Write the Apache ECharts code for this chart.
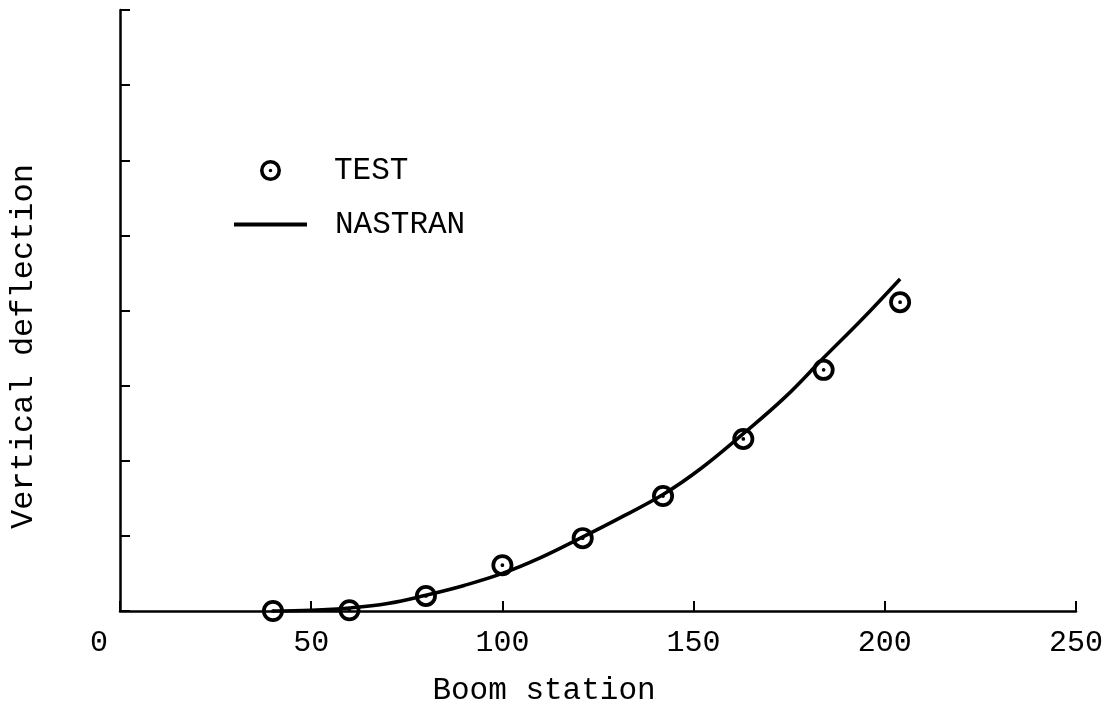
<!DOCTYPE html>
<html>
<head>
<meta charset="utf-8">
<script src="https://cdn.jsdelivr.net/npm/echarts@6/dist/echarts.min.js"></script>
<style>html,body{margin:0;padding:0;background:#fff;}#c{width:1109px;height:711px;}</style>
</head>
<body>
<div id="c"></div>
<script>
// Data
const testStations = [40, 60, 80, 100, 121, 142, 163, 184, 204];
const testDeflection = [0.0, 0.01, 0.2, 0.61, 0.97, 1.53, 2.29, 3.21, 4.11];
const nastranStations = [40, 50, 60, 70, 80, 90, 100, 110, 120, 130, 142, 152, 163, 174, 184, 194, 204];
const nastranDeflection = [0, 0.01, 0.04, 0.1, 0.21, 0.34, 0.5, 0.71, 0.96, 1.22, 1.55, 1.9, 2.36, 2.85, 3.37, 3.88, 4.42];
const xTicks = [0, 50, 100, 150, 200, 250];
const seriesNames = ['TEST', 'NASTRAN'];
const xTitle = 'Boom station';
const yTitle = 'Vertical deflection';

const FONT = '"Liberation Mono", "DejaVu Sans Mono", monospace';
const ringDot = 'path://M10,0 A10,10 0 1,1 10,20 A10,10 0 1,1 10,0 Z M10,3.4 A6.6,6.6 0 1,0 10,16.6 A6.6,6.6 0 1,0 10,3.4 Z M10,8.3 A1.7,1.7 0 1,1 10,11.7 A1.7,1.7 0 1,1 10,8.3 Z';

const chart = echarts.init(document.getElementById('c'), null, {renderer: 'canvas'});
chart.setOption({
  backgroundColor: '#fff',
  animation: false,
  grid: {left: 116, right: 33, top: 10, bottom: 98, containLabel: false},
  legend: [
    {
      data: [{name: seriesNames[0], icon: ringDot}],
      left: 255, top: 150, itemWidth: 21, itemHeight: 21,
      textStyle: {fontFamily: FONT, fontSize: 31, color: '#000', padding: [0, 0, 0, 48]},
      selectedMode: false
    },
    {
      data: [{name: seriesNames[1], icon: 'rect'}],
      left: 229, top: 204, itemWidth: 73, itemHeight: 4,
      textStyle: {fontFamily: FONT, fontSize: 31, color: '#000', padding: [0, 0, 0, 23]},
      selectedMode: false
    }
  ],
  xAxis: {
    type: 'value', min: xTicks[0], max: xTicks[xTicks.length - 1], interval: 50,
    name: xTitle, nameLocation: 'middle', nameGap: 64,
    nameTextStyle: {fontFamily: FONT, fontSize: 31, color: '#000', padding: [0, 108, 0, 0]},
    axisLine: {show: true, lineStyle: {color: '#000', width: 2.5}},
    axisTick: {show: true, inside: true, length: 10, lineStyle: {color: '#000', width: 2}},
    splitLine: {show: false},
    axisLabel: {
      fontFamily: FONT, fontSize: 30, color: '#000', margin: 17,
      formatter: function (v) { return v === 0 ? '{z|0}' : String(v); },
      rich: {z: {fontFamily: FONT, fontSize: 30, color: '#000', padding: [0, 42, 0, 0]}}
    }
  },
  yAxis: {
    type: 'value', min: 0, max: 8, interval: 1,
    name: yTitle, nameLocation: 'middle', nameRotate: 90, nameGap: 80,
    nameTextStyle: {fontFamily: FONT, fontSize: 32, color: '#000', padding: [0, 72, 0, 0]},
    axisLine: {show: true, lineStyle: {color: '#000', width: 2.5}},
    axisTick: {show: true, inside: true, length: 10, lineStyle: {color: '#000', width: 2}},
    splitLine: {show: false},
    axisLabel: {show: false}
  },
  series: [
    {
      name: seriesNames[1], type: 'line', smooth: 0.4, symbol: 'none',
      lineStyle: {color: '#000', width: 3.5},
      itemStyle: {color: '#000'},
      data: nastranStations.map((x, i) => [x, nastranDeflection[i]]),
      z: 2
    },
    {
      name: seriesNames[0], type: 'scatter', symbol: ringDot, symbolSize: 22,
      itemStyle: {color: '#000', opacity: 1},
      data: testStations.map((x, i) => [x, testDeflection[i]]),
      z: 3
    }
  ]
});
</script>
</body>
</html>
